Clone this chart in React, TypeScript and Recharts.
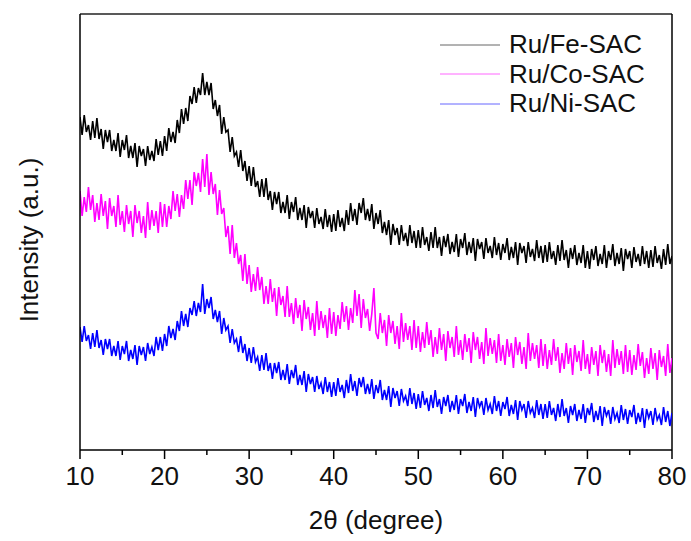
import React from 'react';
import { LineChart, Line, XAxis, YAxis, ReferenceLine, Legend } from 'recharts';

// 2θ scan: 10° to 80° in 0.25° steps
const twoThetaStart = 10;
const twoThetaStep = 0.25;

const feSac = [
  333, 315, 335, 318, 325, 310, 329, 312, 332, 311, 321, 301, 320, 308, 320, 299, 310, 299, 317, 293,
  310, 300, 315, 292, 304, 292, 307, 283, 304, 294, 301, 284, 304, 290, 299, 289, 311, 295, 309, 294,
  314, 299, 322, 308, 318, 307, 330, 317, 341, 326, 342, 329, 354, 346, 363, 347, 362, 355, 377, 355,
  368, 355, 367, 341, 350, 334, 345, 316, 333, 318, 320, 298, 313, 294, 298, 283, 300, 279, 289, 269,
  284, 264, 283, 263, 269, 253, 271, 253, 272, 250, 259, 240, 258, 246, 258, 237, 248, 237, 255, 231,
  248, 238, 253, 230, 242, 230, 245, 222, 243, 232, 239, 222, 242, 226, 233, 221, 241, 223, 235, 218,
  236, 219, 240, 223, 232, 219, 240, 225, 247, 229, 241, 225, 247, 237, 252, 230, 241, 229, 246, 221,
  237, 226, 240, 217, 228, 215, 230, 205, 226, 215, 222, 205, 225, 209, 217, 204, 225, 207, 219, 202,
  220, 202, 223, 205, 213, 199, 218, 202, 223, 202, 213, 194, 214, 203, 216, 196, 208, 198, 216, 193,
  211, 202, 217, 195, 208, 197, 212, 189, 211, 201, 208, 191, 212, 197, 204, 192, 213, 195, 207, 190,
  206, 197, 212, 190, 203, 192, 208, 185, 207, 197, 204, 187, 208, 193, 201, 189, 210, 192, 204, 187,
  205, 188, 208, 191, 199, 185, 205, 189, 210, 190, 200, 182, 202, 191, 205, 185, 197, 187, 205, 182,
  199, 181, 201, 190, 204, 184, 196, 186, 205, 182, 199, 190, 206, 184, 197, 186, 202, 179, 201, 191,
  199, 182, 203, 188, 196, 184, 204, 186, 199, 182, 200, 183, 204, 187, 195, 181, 201, 185, 206, 186,
  194,
];

const coSac = [
  259, 234, 253, 238, 263, 240, 255, 228, 247, 230, 256, 234, 249, 221, 252, 234, 244, 223, 255, 225,
  239, 218, 245, 226, 239, 213, 245, 227, 239, 217, 234, 212, 248, 220, 240, 224, 239, 217, 248, 223,
  246, 223, 244, 231, 259, 239, 256, 233, 255, 241, 270, 251, 270, 245, 278, 264, 277, 258, 291, 263,
  296, 255, 278, 256, 266, 235, 260, 236, 242, 213, 224, 196, 225, 192, 207, 186, 195, 169, 196, 166,
  185, 158, 176, 159, 183, 160, 173, 146, 164, 146, 171, 148, 162, 134, 163, 145, 154, 133, 164, 133,
  147, 126, 152, 132, 145, 119, 150, 131, 143, 120, 137, 114, 149, 120, 139, 122, 135, 112, 142, 116,
  138, 114, 135, 121, 148, 128, 144, 120, 142, 127, 160, 134, 156, 122, 151, 132, 141, 119, 136, 162,
  117, 111, 137, 117, 130, 104, 135, 117, 129, 106, 124, 101, 137, 108, 127, 110, 124, 100, 130, 102,
  124, 98, 118, 102, 128, 105, 120, 93, 113, 96, 122, 100, 116, 89, 119, 102, 113, 93, 124, 95,
  110, 90, 116, 98, 112, 87, 118, 100, 113, 91, 108, 86, 122, 94, 112, 96, 110, 87, 116, 89,
  105, 85, 111, 93, 107, 82, 113, 95, 108, 86, 103, 81, 117, 89, 107, 91, 105, 82, 111, 84,
  106, 81, 100, 85, 111, 89, 103, 77, 97, 81, 107, 86, 102, 75, 105, 88, 99, 79, 110, 81,
  96, 76, 103, 85, 99, 74, 105, 87, 100, 78, 96, 74, 110, 82, 101, 85, 99, 76, 105, 78,
  100, 75, 95, 80, 106, 84, 98, 72, 92, 76, 102, 81, 97, 70, 100, 83, 94, 74, 106, 77,
  92,
];

const niSac = [
  123, 108, 124, 109, 115, 101, 117, 103, 120, 102, 110, 95, 111, 101, 111, 94, 104, 94, 109, 90,
  104, 96, 109, 89, 100, 91, 105, 85, 104, 95, 103, 89, 107, 96, 103, 94, 113, 100, 113, 99,
  116, 104, 124, 112, 121, 110, 129, 119, 139, 124, 136, 123, 142, 135, 149, 134, 147, 138, 166, 136,
  151, 142, 153, 131, 140, 128, 139, 116, 132, 120, 124, 107, 121, 107, 111, 98, 114, 97, 106, 89,
  102, 87, 103, 88, 93, 79, 95, 80, 97, 79, 87, 71, 87, 77, 88, 70, 80, 70, 86, 66,
  80, 72, 85, 65, 75, 65, 79, 58, 76, 66, 73, 58, 74, 61, 67, 56, 73, 58, 68, 53,
  68, 54, 72, 58, 65, 52, 70, 57, 76, 59, 69, 54, 72, 63, 73, 56, 66, 56, 71, 51,
  65, 57, 70, 50, 60, 50, 64, 43, 62, 52, 59, 44, 61, 49, 54, 44, 62, 46, 57, 41,
  56, 42, 59, 45, 52, 39, 55, 42, 60, 43, 51, 36, 53, 44, 55, 38, 49, 40, 55, 36,
  51, 44, 56, 37, 48, 39, 53, 33, 52, 43, 49, 35, 52, 40, 46, 36, 54, 39, 49, 34,
  48, 41, 53, 34, 45, 36, 50, 30, 49, 40, 46, 32, 49, 37, 42, 32, 50, 35, 46, 31,
  46, 32, 49, 35, 42, 29, 46, 33, 51, 34, 42, 27, 44, 35, 46, 29, 40, 31, 46, 27,
  42, 35, 47, 28, 39, 30, 44, 24, 43, 34, 40, 26, 43, 31, 37, 27, 45, 30, 41, 26,
  40, 33, 45, 26, 37, 28, 42, 22, 41, 32, 39, 25, 42, 30, 35, 25, 43, 28, 39, 24,
  37,
];

const majorTicks = [10, 20, 30, 40, 50, 60, 70, 80];
const minorTicks = [15, 25, 35, 45, 55, 65, 75];

const series = [
  { key: 'fe', name: 'Ru/Fe-SAC', color: '#000000' },
  { key: 'co', name: 'Ru/Co-SAC', color: '#ff00ff' },
  { key: 'ni', name: 'Ru/Ni-SAC', color: '#0000ff' },
];

const data = feSac.map((fe, i) => ({
  twoTheta: twoThetaStart + i * twoThetaStep,
  fe,
  co: coSac[i],
  ni: niSac[i],
}));

const FONT = '"Liberation Sans", Arial, sans-serif';

const XTick = (props: any) => {
  const { x, y, payload } = props;
  const major = majorTicks.includes(payload.value);
  return (
    <g>
      <line x1={x} x2={x} y1={y} y2={y + (major ? 9 : 5)} stroke="#000" strokeWidth={1.5} />
      {major && (
        <text x={x} y={y + 35} textAnchor="middle" fontSize={26} fontFamily={FONT} fill="#111">
          {payload.value}
        </text>
      )}
    </g>
  );
};

const XTitle = (props: any) => {
  const vb = props.viewBox;
  return (
    <text x={vb.x + vb.width / 2} y={vb.y + 79} textAnchor="middle" fontSize={26} fontFamily={FONT} fill="#111">
      2θ (degree)
    </text>
  );
};

const YTitle = (props: any) => {
  const vb = props.viewBox;
  const cx = 38;
  const cy = vb.y + vb.height / 2 + 8;
  return (
    <text
      x={cx}
      y={cy}
      transform={`rotate(-90, ${cx}, ${cy})`}
      textAnchor="middle"
      fontSize={26}
      fontFamily={FONT}
      fill="#111"
    >
      Intensity (a.u.)
    </text>
  );
};

const renderLegend = () => (
  <div style={{ fontFamily: FONT, fontSize: 26, color: '#111' }}>
    {series.map((s) => (
      <div key={s.key} style={{ display: 'flex', alignItems: 'center', height: 29.5 }}>
        <svg width={60} height={4} style={{ marginRight: 9 }}>
          <line x1={0} x2={60} y1={2} y2={2} stroke={s.color} strokeOpacity={0.6} strokeWidth={1} />
        </svg>
        <span style={{ lineHeight: '29.5px' }}>{s.name}</span>
      </div>
    ))}
  </div>
);

export default function App() {
  return (
    <div style={{ position: 'fixed', left: 0, top: 0, background: '#fff' }}>
      <LineChart
        width={691}
        height={541}
        data={data}
        margin={{ top: 14, right: 19, bottom: 0, left: 0 }}
      >
        <XAxis
          dataKey="twoTheta"
          type="number"
          domain={[10, 80]}
          ticks={[...majorTicks, ...minorTicks].sort((a, b) => a - b)}
          tick={<XTick />}
          tickLine={false}
          tickSize={0}
          tickMargin={0}
          height={91}
          axisLine={{ stroke: '#000', strokeWidth: 1.5 }}
          allowDataOverflow
          label={XTitle}
        />
        <YAxis
          type="number"
          domain={[0, 436]}
          tick={false}
          tickLine={false}
          width={80}
          axisLine={{ stroke: '#000', strokeWidth: 1.5 }}
          allowDataOverflow
          label={YTitle}
        />
        <ReferenceLine y={436} stroke="#222" strokeWidth={1.5} />
        <ReferenceLine x={80} stroke="#000" strokeWidth={1.5} />
        <Legend
          layout="vertical"
          align="center"
          verticalAlign="middle"
          content={renderLegend}
          wrapperStyle={{ top: 30, left: 440, width: 240 }}
        />
        {series.map((s) => (
          <Line
            key={s.key}
            dataKey={s.key}
            name={s.name}
            stroke={s.color}
            strokeWidth={1.6}
            strokeLinejoin="miter"
            dot={false}
            type="linear"
            isAnimationActive={false}
          />
        ))}
      </LineChart>
    </div>
  );
}
